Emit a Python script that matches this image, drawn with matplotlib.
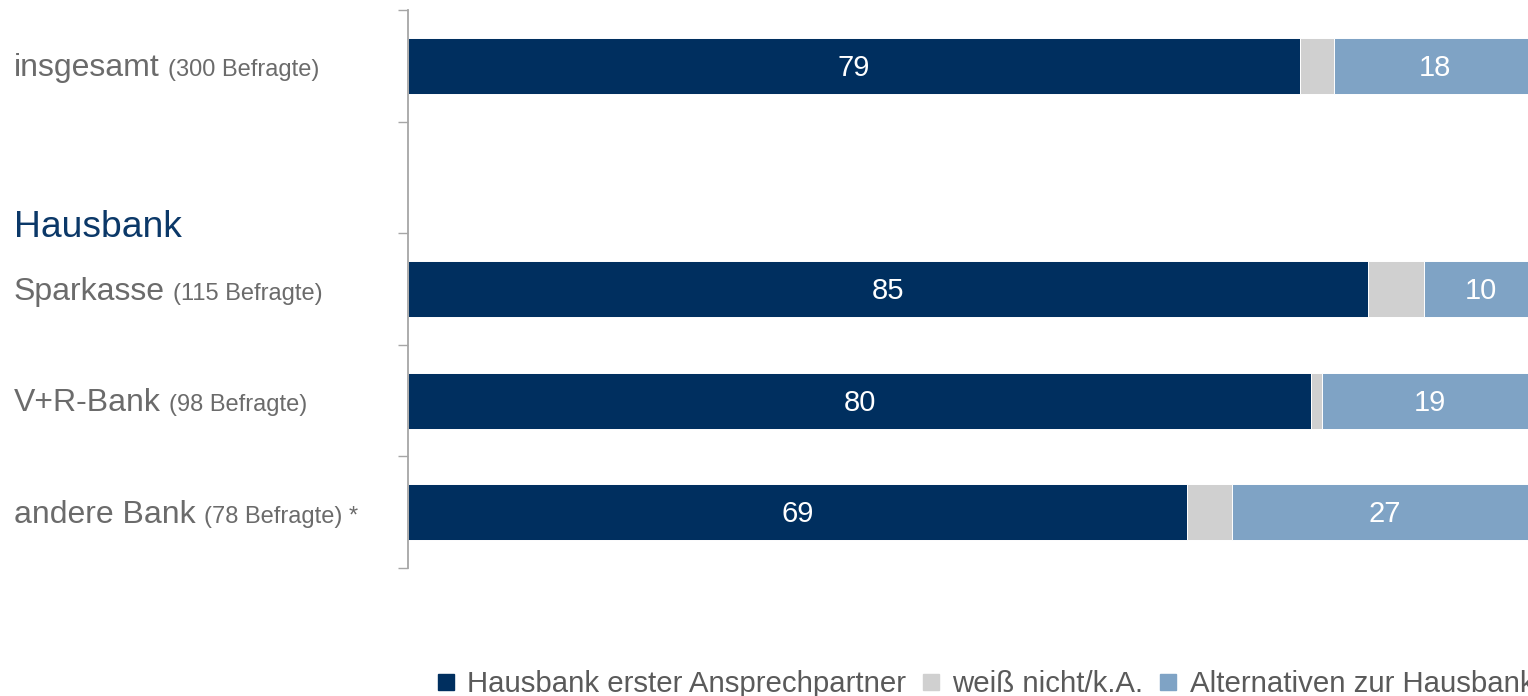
import matplotlib
matplotlib.use("Agg")
import matplotlib.pyplot as plt
from matplotlib.transforms import blended_transform_factory
from matplotlib.lines import Line2D

# Survey data (percent of respondents)
categories = ["insgesamt", "Sparkasse", "V+R-Bank", "andere Bank"]
respondents = [300, 115, 98, 78]
footnotes = ["", "", "", " *"]
hausbank_first = [79, 85, 80, 69]
dont_know = [3, 5, 1, 4]
alternatives = [18, 10, 19, 27]
group_heading = "Hausbank"
legend_labels = ["Hausbank erster Ansprechpartner", "weiß nicht/k.A.",
                 "Alternativen zur Hausbank"]

NAVY = "#002F5F"
GREY = "#D0D0D0"
LIGHT = "#7FA3C5"
LABEL = "#6B6B6B"
HEAD = "#0B3868"
AXIS = "#A6A6A6"

plt.rcParams["font.family"] = ["Liberation Sans", "DejaVu Sans"]

W, H = 1528, 696
fig = plt.figure(figsize=(W / 100, H / 100), dpi=100)
ax = fig.add_axes([408 / W, 128 / H, 1129 / W, 558 / H])

# slot 1 holds the group heading, the bank rows follow below it
rows_y = [0, 2, 3, 4]

left2 = [a + b for a, b in zip(hausbank_first, dont_know)]
ax.barh(rows_y, hausbank_first, height=0.5, color=NAVY, edgecolor="white", linewidth=0.7)
ax.barh(rows_y, dont_know, left=hausbank_first, height=0.5, color=GREY,
        edgecolor="white", linewidth=0.7)
ax.barh(rows_y, alternatives, left=left2, height=0.5, color=LIGHT,
        edgecolor="white", linewidth=0.7)

for y, a, l, c in zip(rows_y, hausbank_first, left2, alternatives):
    ax.text(a / 2, y + 0.02, str(a), ha="center", va="center", color="white", fontsize=21)
    ax.text(l + c / 2, y + 0.02, str(c), ha="center", va="center", color="white", fontsize=21)

ax.set_xlim(0, 100)
ax.set_ylim(4.5, -0.5)
ax.set_yticks([i - 0.5 for i in range(6)])
ax.set_yticklabels([])
ax.set_xticks([])
ax.tick_params(axis="y", direction="out", length=7.5, width=1.0, color=AXIS)
for side in ("top", "right", "bottom"):
    ax.spines[side].set_visible(False)
ax.spines["left"].set_color(AXIS)
ax.spines["left"].set_linewidth(1.3)

# category labels: main name followed by a smaller respondent count
trans = blended_transform_factory(fig.transFigure, ax.transData)
fig.canvas.draw()
renderer = fig.canvas.get_renderer()
for y, name, n, fn in zip(rows_y, categories, respondents, footnotes):
    t = fig.text(14 / W, y + 0.095, name, transform=trans, ha="left", va="baseline",
                 fontsize=23, color=LABEL)
    bb = t.get_window_extent(renderer)
    fig.text((bb.x1 + 8) / W, y + 0.095, f"({n} Befragte){fn}", transform=trans,
             ha="left", va="baseline", fontsize=17, color=LABEL)

fig.text(14 / W, 1 + 0.53, group_heading, transform=trans, ha="left", va="baseline",
         fontsize=26.8, color=HEAD)

handles = [Line2D([], [], marker="s", linestyle="none", markersize=11, color=c)
           for c in (NAVY, GREY, LIGHT)]
leg = fig.legend(handles, legend_labels, loc="lower left",
                 bbox_to_anchor=(435.7 / W, -2.5 / H),
                 ncol=3, frameon=False, fontsize=21.2, handlelength=0.7,
                 handletextpad=0.37, columnspacing=0.5, borderaxespad=0, borderpad=0)
for txt in leg.get_texts():
    txt.set_color("#5A5A5A")

fig.savefig("out.png", dpi=100)
